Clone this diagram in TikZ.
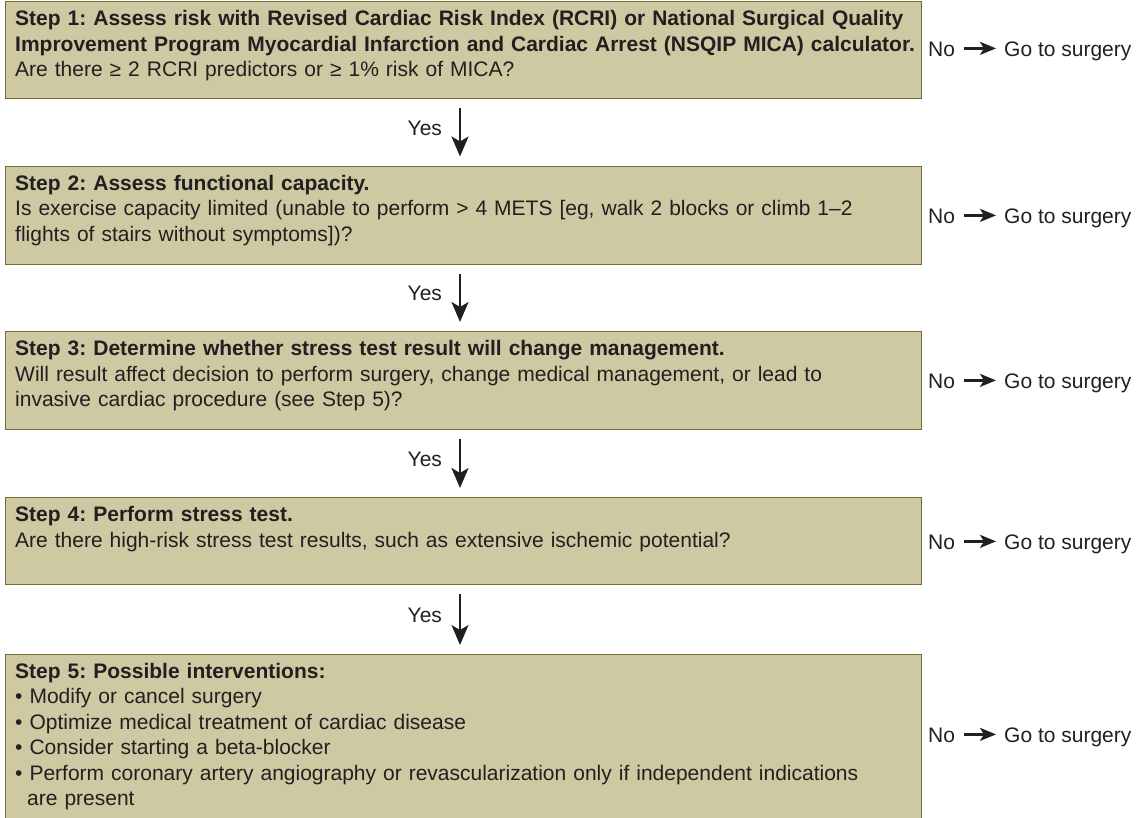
\documentclass[tikz,border=0pt]{standalone}
\usepackage{fontspec}
\setmainfont{Liberation Sans}
\usetikzlibrary{arrows.meta}
\frenchspacing

\definecolor{boxfill}{HTML}{CCC9A3}
\definecolor{boxedge}{HTML}{7B6A2F}
\definecolor{ink}{HTML}{231F20}

\tikzset{
  stepbox/.style={draw=boxedge, fill=boxfill, line width=1.3pt, anchor=north west,
    inner sep=0pt, minimum width=916pt},
  steptext/.style={anchor=base west, inner sep=0pt, text width=905pt, align=left,
    text=ink, font=\fontsize{21}{25.5}\selectfont},
  lbl/.style={anchor=base west, inner sep=0pt, text=ink, font=\fontsize{21}{25}\selectfont},
  yesarrow/.style={draw=ink, line width=2.4pt, -{Stealth[length=20pt,width=17pt,inset=5pt]},
    shorten <=9pt, shorten >=9pt},
  noarrow/.style={draw=ink, line width=2.4pt, -{Stealth[length=16pt,width=13pt,inset=4pt]},
    shorten <=8.5pt, shorten >=8pt},
}

\begin{document}
\begin{tikzpicture}[x=1pt, y=-1pt]
  \useasboundingbox (0,0) rectangle (1146,817);
  \clip (0,0) rectangle (1146,817);

  % step boxes
  \node[stepbox, minimum height=97pt] (s1) at (5,1) {};
  \node[stepbox, minimum height=98pt] (s2) at (5,165.5) {};
  \node[stepbox, minimum height=98pt] (s3) at (5,331) {};
  \node[stepbox, minimum height=87pt] (s4) at (5,497) {};
  \node[stepbox, minimum height=170pt] (s5) at (5,654) {};

  % box texts
  \node[steptext] (t1) at (15,25.5) {%
    \textbf{Step 1: Assess risk with Revised Cardiac Risk Index (RCRI) or National Surgical Quality}\\
    \textbf{Improvement Program Myocardial Infarction and Cardiac Arrest (NSQIP MICA) calculator.}\\
    Are there ≥ 2 RCRI predictors or ≥ 1\% risk of MICA?};
  \node[steptext] (t2) at (15,190) {%
    \textbf{Step 2: Assess functional capacity.}\\
    Is exercise capacity limited (unable to perform > 4 METS [eg, walk 2 blocks or climb 1–2\\
    flights of stairs without symptoms])?};
  \node[steptext] (t3) at (15,355.5) {%
    \textbf{Step 3: Determine whether stress test result will change management.}\\
    Will result affect decision to perform surgery, change medical management, or lead to\\
    invasive cardiac procedure (see Step 5)?};
  \node[steptext] (t4) at (15,521.5) {%
    \textbf{Step 4: Perform stress test.}\\
    Are there high-risk stress test results, such as extensive ischemic potential?};
  \node[steptext] (t5) at (15,678) {%
    \textbf{Step 5: Possible interventions:}\\
    • Modify or cancel surgery\\
    • Optimize medical treatment of cardiac disease\\
    • Consider starting a beta-blocker\\
    • Perform coronary artery angiography or revascularization only if independent indications\\
    \hspace*{12pt}are present};

  % "Yes" connectors between the steps
  \coordinate (ax) at (460,0);
  \draw[yesarrow] (s1.south -| ax) -- (s2.north -| ax);
  \draw[yesarrow] (s2.south -| ax) -- (s3.north -| ax);
  \draw[yesarrow] (s3.south -| ax) -- (s4.north -| ax);
  \draw[yesarrow] (s4.south -| ax) -- (s5.north -| ax);
  \node[lbl] (y1) at (407.5,135.5) {Yes};
  \node[lbl] (y2) at (407.5,300.8) {Yes};
  \node[lbl] (y3) at (407.5,466.5) {Yes};
  \node[lbl] (y4) at (407.5,622.5) {Yes};

  % "No" exits on the right
  \foreach \i/\yy in {1/56.5, 2/223.5, 3/388.5, 4/549.5, 5/742.5} {
    \node[lbl] (no\i) at (928,\yy) {No};
    \node[lbl] (go\i) at (1004,\yy) {Go to surgery};
    \draw[noarrow] ([yshift=1pt]no\i.east) -- ([yshift=1pt]no\i.east -| go\i.west);
  }
\end{tikzpicture}
\end{document}
